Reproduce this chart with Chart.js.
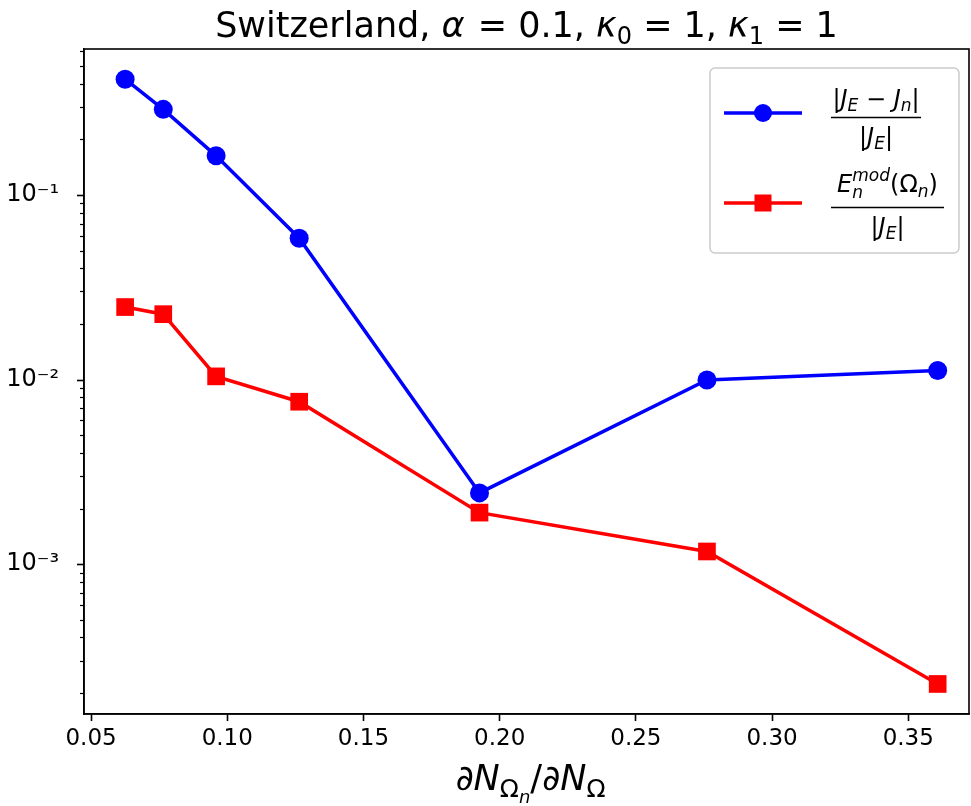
<!DOCTYPE html>
<html>
<head>
<meta charset="utf-8">
<title>Switzerland error estimates</title>
<script src="https://cdn.jsdelivr.net/npm/chart.js@4.4.0/dist/chart.umd.min.js"></script>
<style>
  html, body { margin: 0; padding: 0; background: #fff; }
  canvas { display: block; }
</style>
</head>
<body>
<canvas id="errChart" width="971" height="806"></canvas>
<script>
// boundary fraction dN_{Omega_n} / dN_Omega
const xVals = [0.0625, 0.0765, 0.0959, 0.1264, 0.1926, 0.2761, 0.3608];
// |J_E - J_n| / |J_E|
const relErr = [0.424, 0.291, 0.163, 0.0583, 0.00243, 0.00994, 0.0112];
// E_n^mod(Omega_n) / |J_E|
const modErr = [0.0247, 0.0226, 0.0104, 0.00758, 0.0019, 0.00117, 0.000224];

const xTicks = [0.05, 0.10, 0.15, 0.20, 0.25, 0.30, 0.35];
const xMin = 0.0474, xMax = 0.3723;
const yMin = 0.000154, yMax = 0.618;

// major decades + minor 2..9 ticks for the log axis
const yTicks = [];
for (let e = -4; e <= 0; e++) {
  for (let k = 1; k <= 9; k++) {
    const v = k * Math.pow(10, e);
    if (v >= yMin && v <= yMax) yTicks.push(v);
  }
}

const FONT = '"DejaVu Sans", "Liberation Sans", sans-serif';
const SUP = { '-': '\u207B', '0': '\u2070', '1': '\u00B9', '2': '\u00B2', '3': '\u00B3', '4': '\u2074' };

const isDecade = v => {
  const e = Math.round(Math.log10(v));
  return Math.abs(v / Math.pow(10, e) - 1) < 1e-9;
};
const decadeLabel = v => {
  const e = String(Math.round(Math.log10(v)));
  return '10' + e.split('').map(c => SUP[c]).join('');
};

// --- little rich text helper for the math bits ---
const fontOf = r => (r.it ? 'italic ' : '') + r.size + 'px ' + FONT;
const runsWidth = (ctx, runs) => {
  let w = 0;
  runs.forEach(r => {
    ctx.font = fontOf(r);
    if (!r.stay) w += ctx.measureText(r.t).width + (r.gap || 0);
  });
  return w;
};
const drawRuns = (ctx, runs, x, base) => {
  ctx.textAlign = 'left';
  ctx.textBaseline = 'alphabetic';
  runs.forEach(r => {
    ctx.font = fontOf(r);
    ctx.fillText(r.t, x, base + (r.dy || 0));
    if (!r.stay) x += ctx.measureText(r.t).width + (r.gap || 0);
  });
};

const T = 35, Ts = 24;
const titleRuns = [
  { t: 'Switzerland, ', size: T },
  { t: '\u03B1', size: T, it: true, gap: 2 },
  { t: ' = 0.1, ', size: T },
  { t: '\u03BA', size: T, it: true },
  { t: '0', size: Ts, dy: 7 },
  { t: ' = 1, ', size: T },
  { t: '\u03BA', size: T, it: true },
  { t: '1', size: Ts, dy: 7 },
  { t: ' = 1', size: T }
];

const X = 35, Xs = 25, Xss = 18;
const xLabelRuns = [
  { t: '\u2202', size: X },
  { t: 'N', size: X, it: true },
  { t: '\u03A9', size: Xs, dy: 7 },
  { t: 'n', size: Xss, it: true, dy: 13 },
  { t: '/', size: X },
  { t: '\u2202', size: X },
  { t: 'N', size: X, it: true },
  { t: '\u03A9', size: Xs, dy: 7 }
];

const L = 24, Ls = 17;
const denomRuns = [
  { t: '|', size: L },
  { t: 'J', size: L, it: true },
  { t: 'E', size: Ls, it: true, dy: 4 },
  { t: '|', size: L }
];

const legendEntries = [
  {
    num: [
      { t: '|', size: L },
      { t: 'J', size: L, it: true },
      { t: 'E', size: Ls, it: true, dy: 4 },
      { t: ' \u2212 ', size: L },
      { t: 'J', size: L, it: true },
      { t: 'n', size: Ls, it: true, dy: 4 },
      { t: '|', size: L }
    ],
    numUp: 11, barW: 90
  },
  {
    num: [
      { t: 'E', size: L, it: true },
      { t: 'n', size: Ls, it: true, dy: 6, stay: true },
      { t: 'mod', size: Ls, it: true, dy: -11 },
      { t: '(\u03A9', size: L },
      { t: 'n', size: Ls, it: true, dy: 5 },
      { t: ')', size: L }
    ],
    numUp: 16, barW: 113
  }
];

const mathDecor = {
  id: 'mathDecor',
  afterDraw(chart) {
    const ctx = chart.ctx;
    const a = chart.chartArea;
    const ys = chart.scales.y;
    ctx.save();

    // frame and y ticks
    ctx.strokeStyle = '#000';
    ctx.lineWidth = 1.6;
    ctx.strokeRect(a.left, a.top, a.right - a.left, a.bottom - a.top);
    ys.ticks.forEach(t => {
      const py = Math.round(ys.getPixelForValue(t.value)) + 0.5;
      const major = isDecade(t.value);
      ctx.lineWidth = major ? 1.6 : 1.2;
      ctx.beginPath();
      ctx.moveTo(a.left, py);
      ctx.lineTo(a.left - (major ? 7 : 4), py);
      ctx.stroke();
    });

    ctx.fillStyle = '#000';
    const cx = (a.left + a.right) / 2;
    drawRuns(ctx, titleRuns, cx - runsWidth(ctx, titleRuns) / 2, 37);
    drawRuns(ctx, xLabelRuns, cx + 4 - runsWidth(ctx, xLabelRuns) / 2, 790);

    // legend
    const bw = 249, bh = 185;
    const bx = a.right - 10 - bw, by = a.top + 19;
    ctx.beginPath();
    ctx.roundRect(bx, by, bw, bh, 5);
    ctx.fillStyle = 'rgba(255,255,255,0.8)';
    ctx.fill();
    ctx.strokeStyle = '#cccccc';
    ctx.lineWidth = 1.5;
    ctx.stroke();

    chart.data.datasets.forEach((ds, i) => {
      const e = legendEntries[i];
      const ly = by + 45 + i * 90;
      ctx.strokeStyle = ds.borderColor;
      ctx.fillStyle = ds.borderColor;
      ctx.lineWidth = 3.5;
      ctx.beginPath();
      ctx.moveTo(bx + 14, ly);
      ctx.lineTo(bx + 92, ly);
      ctx.stroke();
      const mx = bx + 53;
      if (ds.pointStyle === 'rect') {
        ctx.fillRect(mx - 8.5, ly - 8.5, 17, 17);
      } else {
        ctx.beginPath();
        ctx.arc(mx, ly, 9, 0, Math.PI * 2);
        ctx.fill();
      }
      const fx = bx + 121;
      const barY = ly + 4.5;
      ctx.fillStyle = '#000';
      ctx.fillRect(fx, barY - 0.75, e.barW, 1.5);
      const nw = runsWidth(ctx, e.num);
      drawRuns(ctx, e.num, fx + (e.barW - nw) / 2, barY - e.numUp);
      const dw = runsWidth(ctx, denomRuns);
      drawRuns(ctx, denomRuns, fx + (e.barW - dw) / 2, barY + 27);
    });
    ctx.restore();
  }
};

const ctx = document.getElementById('errChart').getContext('2d');
new Chart(ctx, {
  type: 'line',
  data: {
    datasets: [{
      label: '|J_E - J_n| / |J_E|',
      data: xVals.map((x, i) => ({ x: x, y: relErr[i] })),
      borderColor: '#0000ff',
      backgroundColor: '#0000ff',
      borderWidth: 3.5,
      pointStyle: 'circle',
      pointRadius: 9.5,
      pointBorderWidth: 0,
      tension: 0
    }, {
      label: 'E_n^mod(Omega_n) / |J_E|',
      data: xVals.map((x, i) => ({ x: x, y: modErr[i] })),
      borderColor: '#ff0000',
      backgroundColor: '#ff0000',
      borderWidth: 3.5,
      pointStyle: 'rect',
      pointRadius: 12.5,
      pointBorderWidth: 0,
      tension: 0
    }]
  },
  options: {
    responsive: false,
    animation: false,
    layout: { autoPadding: false, padding: { left: 0, right: 2, top: 49, bottom: 0 } },
    plugins: {
      legend: { display: false },
      title: { display: false },
      tooltip: { enabled: false }
    },
    scales: {
      x: {
        type: 'linear',
        min: xMin,
        max: xMax,
        afterBuildTicks: scale => { scale.ticks = xTicks.map(v => ({ value: v })); },
        afterFit: scale => {
          scale.height = 92;
          scale.paddingLeft = 0;
          scale.paddingRight = 0;
        },
        grid: {
          drawOnChartArea: false,
          drawTicks: true,
          tickLength: 7,
          tickWidth: 1.6,
          tickColor: '#000'
        },
        border: { display: true, color: '#000', width: 1.6 },
        ticks: {
          autoSkip: false,
          maxRotation: 0,
          padding: 4,
          color: '#000',
          font: { family: FONT, size: 23 },
          callback: v => v.toFixed(2)
        }
      },
      y: {
        type: 'logarithmic',
        min: yMin,
        max: yMax,
        afterBuildTicks: scale => { scale.ticks = yTicks.map(v => ({ value: v })); },
        afterFit: scale => {
          scale.width = 84;
          scale.paddingTop = 0;
          scale.paddingBottom = 0;
        },
        grid: { display: false },
        border: { display: true, color: '#000', width: 1.6 },
        ticks: {
          autoSkip: false,
          padding: 17,
          color: '#000',
          font: { family: FONT, size: 24 },
          callback: v => (isDecade(v) ? decadeLabel(v) : '')
        }
      }
    }
  },
  plugins: [mathDecor]
});
</script>
</body>
</html>
